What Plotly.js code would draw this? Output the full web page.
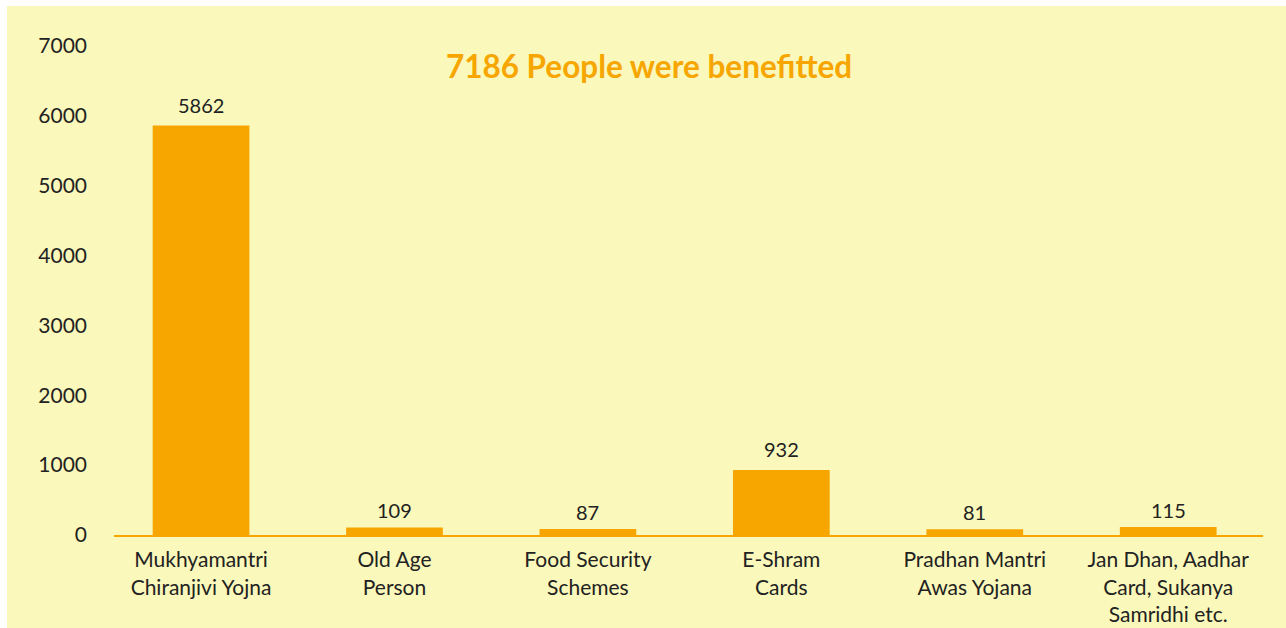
<!DOCTYPE html>
<html>
<head>
<meta charset="utf-8">
<script src="https://cdn.plot.ly/plotly-3.0.1.min.js"></script>
<style>
html,body{margin:0;padding:0;background:#ffffff;overflow:hidden;}
#chart{position:absolute;left:7px;top:6px;width:1279px;height:622px;}
</style>
</head>
<body>
<div id="chart"></div>
<script>
const categories = [
  "Mukhyamantri<br>Chiranjivi Yojna",
  "Old Age<br>Person",
  "Food Security<br>Schemes",
  "E-Shram<br>Cards",
  "Pradhan Mantri<br>Awas Yojana",
  "Jan Dhan, Aadhar<br>Card, Sukanya<br>Samridhi etc."
];
const beneficiaries = [5862, 109, 87, 932, 81, 115];
const yTicks = [0, 1000, 2000, 3000, 4000, 5000, 6000, 7000];
const titleText = "7186 People were benefitted";

const FONT = "Lato, 'Open Sans', sans-serif";
const TEXT = "#222222";
const ORANGE = "#F7A600";
const BG = "#FAF8BB";

const trace = {
  type: "bar",
  x: categories,
  y: beneficiaries,
  width: 0.5,
  marker: {color: ORANGE},
  hoverinfo: "skip"
};

const annotations = categories.map((c, i) => ({
  x: c, y: beneficiaries[i], xref: "x", yref: "y",
  text: String(beneficiaries[i]),
  showarrow: false, yanchor: "bottom", yshift: beneficiaries[i] > 500 ? 7 : 3,
  font: {family: FONT, size: 20, color: TEXT}
}));

const layout = {
  width: 1279, height: 622,
  paper_bgcolor: BG, plot_bgcolor: BG,
  margin: {l: 107, r: 23, t: 39.5, b: 92.5},
  showlegend: false,
  title: {
    text: "<b>" + titleText + "</b>",
    x: 642/1279, xref: "container", xanchor: "center",
    y: 1 - 61/622, yref: "container", yanchor: "middle",
    font: {family: FONT, size: 31.5, color: ORANGE}
  },
  xaxis: {
    type: "category",
    range: [-0.45, 5.49],
    showline: true, linecolor: ORANGE, linewidth: 2,
    showgrid: false, zeroline: false,
    ticks: "", ticklabelstandoff: 5,
    tickfont: {family: FONT, size: 21, color: TEXT},
    fixedrange: true
  },
  yaxis: {
    range: [0, 7000],
    tickvals: yTicks,
    ticktext: yTicks.map(String),
    showgrid: false, zeroline: false, showline: false,
    ticks: "", ticklabelstandoff: 26,
    tickfont: {family: FONT, size: 21, color: TEXT},
    fixedrange: true
  },
  annotations: annotations
};

Plotly.newPlot("chart", [trace], layout, {displayModeBar: false, staticPlot: true});
</script>
</body>
</html>
